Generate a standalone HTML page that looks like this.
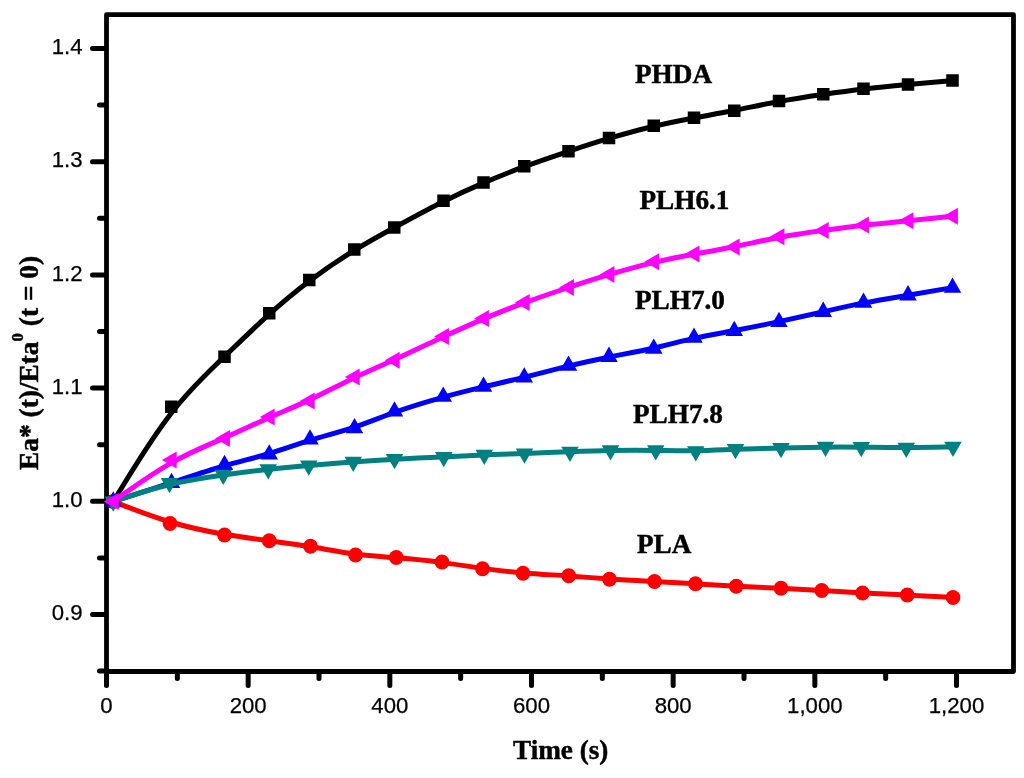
<!DOCTYPE html>
<html><head><meta charset="utf-8"><title>Chart</title>
<style>html,body{margin:0;padding:0;background:#fff;overflow:hidden}svg{display:block;position:absolute;left:0;top:0;will-change:transform}</style>
</head><body>
<svg width="1024" height="778" viewBox="0 0 1024 778">
<rect width="1024" height="778" fill="#fff"/>
<rect x="106.5" y="14.65" width="907.0" height="656.85" fill="none" stroke="#000" stroke-width="4.8" stroke-linejoin="round"/>
<g stroke="#000" stroke-width="5" stroke-linecap="round"><line x1="106.5" y1="673.5" x2="106.5" y2="685.5"/><line x1="177.33" y1="673.5" x2="177.33" y2="678.5"/><line x1="248.17" y1="673.5" x2="248.17" y2="685.5"/><line x1="319" y1="673.5" x2="319" y2="678.5"/><line x1="389.83" y1="673.5" x2="389.83" y2="685.5"/><line x1="460.67" y1="673.5" x2="460.67" y2="678.5"/><line x1="531.5" y1="673.5" x2="531.5" y2="685.5"/><line x1="602.33" y1="673.5" x2="602.33" y2="678.5"/><line x1="673.17" y1="673.5" x2="673.17" y2="685.5"/><line x1="744" y1="673.5" x2="744" y2="678.5"/><line x1="814.83" y1="673.5" x2="814.83" y2="685.5"/><line x1="885.67" y1="673.5" x2="885.67" y2="678.5"/><line x1="956.5" y1="673.5" x2="956.5" y2="685.5"/><line x1="104.5" y1="671.1" x2="99.5" y2="671.1"/><line x1="104.5" y1="614.5" x2="92.5" y2="614.5"/><line x1="104.5" y1="557.9" x2="99.5" y2="557.9"/><line x1="104.5" y1="501.3" x2="92.5" y2="501.3"/><line x1="104.5" y1="444.7" x2="99.5" y2="444.7"/><line x1="104.5" y1="388.1" x2="92.5" y2="388.1"/><line x1="104.5" y1="331.5" x2="99.5" y2="331.5"/><line x1="104.5" y1="274.9" x2="92.5" y2="274.9"/><line x1="104.5" y1="218.3" x2="99.5" y2="218.3"/><line x1="104.5" y1="161.7" x2="92.5" y2="161.7"/><line x1="104.5" y1="105.1" x2="99.5" y2="105.1"/><line x1="104.5" y1="48.5" x2="92.5" y2="48.5"/></g>
<g font-family="'Liberation Sans', sans-serif" font-size="22.2" fill="#000" stroke="#000" stroke-width="0.25"><text x="106.5" y="713" text-anchor="middle">0</text><text x="248.17" y="713" text-anchor="middle">200</text><text x="389.83" y="713" text-anchor="middle">400</text><text x="531.5" y="713" text-anchor="middle">600</text><text x="673.17" y="713" text-anchor="middle">800</text><text x="814.83" y="713" text-anchor="middle">1,000</text><text x="956.5" y="713" text-anchor="middle">1,200</text><text x="82.5" y="620.2" text-anchor="end">0.9</text><text x="82.5" y="507" text-anchor="end">1.0</text><text x="82.5" y="393.8" text-anchor="end">1.1</text><text x="82.5" y="280.6" text-anchor="end">1.2</text><text x="82.5" y="167.4" text-anchor="end">1.3</text><text x="82.5" y="54.2" text-anchor="end">1.4</text></g>
<g fill="#000"><path d="M113.25 501.5C113.25 501.5 113.25 501.5 122.92 485.71C132.58 469.92 151.92 438.33 170.46 414.21C189 390.08 206.75 373.42 223.08 357.83C239.42 342.25 254.33 327.75 268.46 314.96C282.58 302.17 295.92 291.08 310.08 280.46C324.25 269.83 339.25 259.67 353.42 250.92C367.58 242.17 380.92 234.83 395.79 226.71C410.67 218.58 427.08 209.67 441.96 202.17C456.83 194.67 470.17 188.58 483.62 182.83C497.08 177.08 510.67 171.67 524.83 166.46C539 161.25 553.75 156.25 567.88 151.54C582 146.83 595.5 142.42 609.71 138.17C623.92 133.92 638.83 129.83 653 126.46C667.17 123.08 680.58 120.42 694 117.92C707.42 115.42 720.83 113.08 735 110.29C749.17 107.5 764.08 104.25 778.92 101.5C793.75 98.75 808.5 96.5 822.58 94.46C836.67 92.42 850.08 90.58 864.21 88.96C878.33 87.33 893.17 85.92 908 84.54C922.83 83.17 937.67 81.83 945.08 81.17C952.5 80.5 952.5 80.5 952.5 80.5" fill="none" stroke="#000" stroke-width="5.0" stroke-linejoin="round" stroke-linecap="round"/><rect x="107" y="495.25" width="12.5" height="12.5"/><rect x="165" y="400.5" width="12.5" height="12.5"/><rect x="218.25" y="350.5" width="12.5" height="12.5"/><rect x="263" y="307" width="12.5" height="12.5"/><rect x="303" y="273.75" width="12.5" height="12.5"/><rect x="348" y="243.25" width="12.5" height="12.5"/><rect x="388" y="221.25" width="12.5" height="12.5"/><rect x="437.25" y="194.5" width="12.5" height="12.5"/><rect x="477.25" y="176.25" width="12.5" height="12.5"/><rect x="518" y="160" width="12.5" height="12.5"/><rect x="562.25" y="145" width="12.5" height="12.5"/><rect x="602.75" y="131.75" width="12.5" height="12.5"/><rect x="647.5" y="119.5" width="12.5" height="12.5"/><rect x="687.75" y="111.5" width="12.5" height="12.5"/><rect x="728" y="104.5" width="12.5" height="12.5"/><rect x="772.75" y="94.75" width="12.5" height="12.5"/><rect x="817" y="88" width="12.5" height="12.5"/><rect x="857.25" y="82.5" width="12.5" height="12.5"/><rect x="901.75" y="78.25" width="12.5" height="12.5"/><rect x="946.25" y="74.25" width="12.5" height="12.5"/></g>
<g fill="#f00"><path d="M113.25 501.5C113.25 501.5 113.25 501.5 122.71 505.17C132.17 508.83 151.08 516.17 169.62 521.75C188.17 527.33 206.33 531.17 222.88 534.04C239.42 536.92 254.33 538.83 268.67 540.71C283 542.58 296.75 544.42 311.12 546.79C325.5 549.17 340.5 552.08 354.79 553.96C369.08 555.83 382.67 556.67 397.08 557.83C411.5 559 426.75 560.5 441.12 562.38C455.5 564.25 469 566.5 482.5 568.38C496 570.25 509.5 571.75 523.88 572.92C538.25 574.08 553.5 574.92 567.92 575.92C582.33 576.92 595.92 578.08 610.21 579.04C624.5 580 639.5 580.75 653.83 581.5C668.17 582.25 681.83 583 695.46 583.79C709.08 584.58 722.67 585.42 736.92 586.17C751.17 586.92 766.08 587.58 780.33 588.29C794.58 589 808.17 589.75 821.75 590.54C835.33 591.33 848.92 592.17 863.17 592.92C877.42 593.67 892.33 594.33 907.42 595.08C922.5 595.83 937.75 596.67 945.38 597.08C953 597.5 953 597.5 953 597.5" fill="none" stroke="#f00" stroke-width="5.0" stroke-linejoin="round" stroke-linecap="round"/><circle cx="113.25" cy="501.5" r="7.4"/><circle cx="170" cy="523.5" r="7.4"/><circle cx="224.5" cy="535" r="7.4"/><circle cx="269.25" cy="540.75" r="7.4"/><circle cx="310.5" cy="546.25" r="7.4"/><circle cx="355.5" cy="555" r="7.4"/><circle cx="396.25" cy="557.5" r="7.4"/><circle cx="442" cy="562" r="7.4"/><circle cx="482.5" cy="568.75" r="7.4"/><circle cx="523" cy="573.25" r="7.4"/><circle cx="568.75" cy="575.75" r="7.4"/><circle cx="609.5" cy="579.25" r="7.4"/><circle cx="654.5" cy="581.5" r="7.4"/><circle cx="695.5" cy="583.75" r="7.4"/><circle cx="736.25" cy="586.25" r="7.4"/><circle cx="781" cy="588.25" r="7.4"/><circle cx="821.75" cy="590.5" r="7.4"/><circle cx="862.5" cy="593" r="7.4"/><circle cx="907.25" cy="595" r="7.4"/><circle cx="953" cy="597.5" r="7.4"/></g>
<g fill="#00f"><path d="M113.25 501.5C113.25 501.5 113.25 501.5 122.96 498.42C132.67 495.33 152.08 489.17 170.62 483.08C189.17 477 206.83 471 223.12 466.25C239.42 461.5 254.33 458 268.58 453.75C282.83 449.5 296.42 444.5 310.62 440.12C324.83 435.73 339.67 431.97 353.75 427.3C367.83 422.63 381.17 417.07 395.96 411.82C410.75 406.58 427 401.67 441.83 397.54C456.67 393.42 470.08 390.08 483.58 386.88C497.08 383.67 510.67 380.58 524.83 377.07C539 373.57 553.75 369.63 567.88 366.18C582 362.73 595.5 359.77 609.71 356.93C623.92 354.1 638.83 351.4 653 348.22C667.17 345.03 680.58 341.37 694 338.4C707.42 335.43 720.83 333.17 735 330.53C749.17 327.88 764.08 324.87 778.92 321.68C793.75 318.5 808.5 315.15 822.58 311.94C836.67 308.73 850.08 305.67 864.21 302.92C878.33 300.17 893.17 297.73 908 295.23C922.83 292.73 937.67 290.17 945.08 288.88C952.5 287.6 952.5 287.6 952.5 287.6" fill="none" stroke="#00f" stroke-width="5.0" stroke-linejoin="round" stroke-linecap="round"/><path d="M113.25 491.3L122 506.6L104.5 506.6Z"/><path d="M171.5 472.8L180.25 488.1L162.75 488.1Z"/><path d="M224.5 454.8L233.25 470.1L215.75 470.1Z"/><path d="M269.25 444.3L278 459.6L260.5 459.6Z"/><path d="M310 429.3L318.75 444.6L301.25 444.6Z"/><path d="M354.5 418L363.25 433.3L345.75 433.3Z"/><path d="M394.5 401.3L403.25 416.6L385.75 416.6Z"/><path d="M443.25 386.55L452 401.85L434.5 401.85Z"/><path d="M483.5 376.55L492.25 391.85L474.75 391.85Z"/><path d="M524.25 367.3L533 382.6L515.5 382.6Z"/><path d="M568.5 355.5L577.25 370.8L559.75 370.8Z"/><path d="M609 346.6L617.75 361.9L600.25 361.9Z"/><path d="M653.75 338.5L662.5 353.8L645 353.8Z"/><path d="M694 327.5L702.75 342.8L685.25 342.8Z"/><path d="M734.25 320.7L743 336L725.5 336Z"/><path d="M779 311.65L787.75 326.95L770.25 326.95Z"/><path d="M823.25 301.6L832 316.9L814.5 316.9Z"/><path d="M863.5 292.4L872.25 307.7L854.75 307.7Z"/><path d="M908 285.1L916.75 300.4L899.25 300.4Z"/><path d="M952.5 277.4L961.25 292.7L943.75 292.7Z"/></g>
<g fill="#008080"><path d="M113.25 501.5C113.25 501.5 113.25 501.5 122.62 498.42C132 495.33 150.75 489.17 169.08 484.72C187.42 480.27 205.33 477.53 221.79 475.24C238.25 472.95 253.25 471.1 267.5 469.55C281.75 468 295.25 466.75 309.42 465.5C323.58 464.25 338.42 463 352.71 461.93C367 460.87 380.75 459.98 395.83 459.19C410.92 458.4 427.33 457.7 442.29 456.98C457.25 456.27 470.75 455.53 484.21 454.95C497.67 454.37 511.08 453.93 525.38 453.43C539.67 452.92 554.83 452.33 569.17 451.8C583.5 451.27 597 450.78 611.29 450.54C625.58 450.3 640.67 450.3 654.88 450.46C669.08 450.62 682.42 450.93 695.71 450.73C709 450.53 722.25 449.82 736.46 449.29C750.67 448.77 765.83 448.43 780.83 448.07C795.83 447.7 810.67 447.3 824.04 447.13C837.42 446.97 849.33 447.03 862.79 447.18C876.25 447.33 891.25 447.57 906.54 447.53C921.83 447.5 937.42 447.2 945.21 447.05C953 446.9 953 446.9 953 446.9" fill="none" stroke="#008080" stroke-width="5.0" stroke-linejoin="round" stroke-linecap="round"/><path d="M113.25 511.7L122 496.4L104.5 496.4Z"/><path d="M169.5 493.2L178.25 477.9L160.75 477.9Z"/><path d="M223.25 485L232 469.7L214.5 469.7Z"/><path d="M268.25 479.45L277 464.15L259.5 464.15Z"/><path d="M308.75 475.7L317.5 460.4L300 460.4Z"/><path d="M353.25 471.95L362 456.65L344.5 456.65Z"/><path d="M394.5 469.3L403.25 454L385.75 454Z"/><path d="M443.75 467.2L452.5 451.9L435 451.9Z"/><path d="M484.25 465L493 449.7L475.5 449.7Z"/><path d="M524.5 463.7L533.25 448.4L515.75 448.4Z"/><path d="M570 461.95L578.75 446.65L561.25 446.65Z"/><path d="M610.5 460.5L619.25 445.2L601.75 445.2Z"/><path d="M655.75 460.5L664.5 445.2L647 445.2Z"/><path d="M695.75 461.45L704.5 446.15L687 446.15Z"/><path d="M735.5 459.3L744.25 444L726.75 444Z"/><path d="M781 458.3L789.75 443L772.25 443Z"/><path d="M825.5 457.1L834.25 441.8L816.75 441.8Z"/><path d="M861.25 457.3L870 442L852.5 442Z"/><path d="M906.25 458L915 442.7L897.5 442.7Z"/><path d="M953 457.1L961.75 441.8L944.25 441.8Z"/></g>
<g fill="#f0f"><path d="M113.25 501.5C113.25 501.5 113.25 501.5 122.92 494.58C132.58 487.67 151.92 473.83 170.46 463.32C189 452.8 206.75 445.6 223.08 438.45C239.42 431.3 254.33 424.2 268.46 417.95C282.58 411.7 295.92 406.3 310.08 399.62C324.25 392.93 339.25 384.97 353.42 378.19C367.58 371.42 380.92 365.83 395.79 359.08C410.67 352.33 427.08 344.42 441.96 337.46C456.83 330.5 470.17 324.5 483.62 318.83C497.08 313.17 510.67 307.83 524.83 302.65C539 297.47 553.75 292.43 567.88 287.75C582 283.07 595.5 278.73 609.71 274.46C623.92 270.18 638.83 265.97 653 262.58C667.17 259.2 680.58 256.65 694 254.21C707.42 251.77 720.83 249.43 735 246.54C749.17 243.65 764.08 240.2 778.92 237.42C793.75 234.63 808.5 232.52 822.58 230.56C836.67 228.6 850.08 226.8 864.21 225.19C878.33 223.58 893.17 222.17 908 220.71C922.83 219.25 937.67 217.75 945.08 217C952.5 216.25 952.5 216.25 952.5 216.25" fill="none" stroke="#f0f" stroke-width="5.0" stroke-linejoin="round" stroke-linecap="round"/><path d="M103.88 501.5L118.68 493L118.68 510Z"/><path d="M161.88 460L176.68 451.5L176.68 468.5Z"/><path d="M215.13 438.4L229.93 429.9L229.93 446.9Z"/><path d="M259.88 417.1L274.68 408.6L274.68 425.6Z"/><path d="M299.88 400.9L314.68 392.4L314.68 409.4Z"/><path d="M344.88 377L359.68 368.5L359.68 385.5Z"/><path d="M384.88 360.25L399.68 351.75L399.68 368.75Z"/><path d="M434.13 336.5L448.93 328L448.93 345Z"/><path d="M474.13 318.5L488.93 310L488.93 327Z"/><path d="M514.88 302.5L529.68 294L529.68 311Z"/><path d="M559.13 287.4L573.93 278.9L573.93 295.9Z"/><path d="M599.63 274.4L614.43 265.9L614.43 282.9Z"/><path d="M644.38 261.75L659.18 253.25L659.18 270.25Z"/><path d="M684.63 254.1L699.43 245.6L699.43 262.6Z"/><path d="M724.88 247.1L739.68 238.6L739.68 255.6Z"/><path d="M769.63 236.75L784.43 228.25L784.43 245.25Z"/><path d="M813.88 230.4L828.68 221.9L828.68 238.9Z"/><path d="M854.13 225L868.93 216.5L868.93 233.5Z"/><path d="M898.63 220.75L913.43 212.25L913.43 229.25Z"/><path d="M943.13 216.25L957.93 207.75L957.93 224.75Z"/></g>
<g font-family="'Liberation Serif', serif" font-weight="bold" font-size="27.2" fill="#000" stroke="#000" stroke-width="0.45"><text x="635" y="83">PHDA</text><text x="639.5" y="208.75">PLH6.1</text><text x="635" y="308.75">PLH7.0</text><text x="633" y="423">PLH7.8</text><text x="637" y="553.25">PLA</text><text x="513" y="758.75">Time (s)</text><text transform="translate(38 470) rotate(-90)" font-size="27.4">Ea* (t)/Eta<tspan font-size="16.8" dy="-15.2">0</tspan><tspan dy="15.2"> (t = 0)</tspan></text></g>
</svg>
</body></html>
